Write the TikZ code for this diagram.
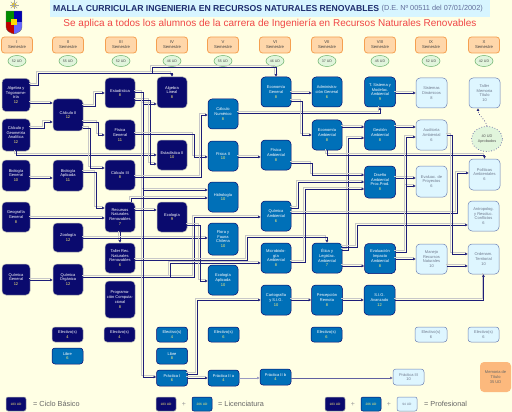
\documentclass[tikz,border=0pt]{standalone}
\usepackage{fontspec}
\setmainfont{Liberation Sans}
\usetikzlibrary{arrows.meta,shapes.geometric}
\definecolor{bg}{RGB}{255,255,228}
\definecolor{navyc}{RGB}{10,10,110}
\definecolor{licc}{RGB}{0,112,184}
\definecolor{profc}{RGB}{222,246,255}
\definecolor{profb}{RGB}{110,130,180}
\definecolor{proft}{RGB}{110,120,140}
\definecolor{linec}{RGB}{30,30,120}
\definecolor{shadowc}{RGB}{200,200,200}
\definecolor{orangef}{RGB}{255,215,170}
\definecolor{oranged}{RGB}{245,160,80}
\definecolor{greenf}{RGB}{225,245,220}
\definecolor{greend}{RGB}{110,180,110}
\definecolor{titlec}{RGB}{30,45,110}
\definecolor{redc}{RGB}{240,70,70}
\definecolor{titlebg}{RGB}{215,245,255}
\definecolor{numc}{RGB}{255,240,120}
\definecolor{memc}{RGB}{252,185,125}
\newcommand\nm[1]{\textcolor{numc}{#1}}
\tikzset{
 box/.style={rounded corners=4pt, minimum width=30pt, minimum height=30pt, inner sep=0.5pt, align=center, font=\fontsize{4}{4.8}\selectfont, line width=0.5pt},
 basic/.style={box, fill=navyc, draw=gray!60, text=white},
 lic/.style={box, fill=licc, draw=navyc, text=white},
 prof/.style={box, fill=profc, draw=profb, text=proft},
 smallbox/.style={minimum height=15pt, minimum width=31pt, rounded corners=3pt},
 conn/.style={draw=linec, line width=0.45pt, -{Triangle[length=2.6pt,width=2.4pt]},
   preaction={draw=shadowc, line width=0.9pt, -, transform canvas={xshift=-1.3pt,yshift=1.3pt}}},
 sem/.style={rounded corners=3pt, fill=orangef, draw=oranged, line width=0.8pt, minimum width=31pt, minimum height=16pt, inner sep=0pt, align=center, font=\fontsize{4.2}{5}\selectfont, text=black!75},
 udell/.style={ellipse, fill=greenf, draw=greend, line width=0.5pt, minimum width=18pt, minimum height=11pt, inner sep=0pt, font=\fontsize{3.6}{4}\selectfont, text=black!70},
 legtxt/.style={anchor=west, inner sep=0pt, font=\fontsize{7.3}{8.5}\selectfont, text=black!60},
 legbox/.style={minimum width=20pt, minimum height=14pt, rounded corners=2pt, font=\fontsize{3.2}{3.8}\selectfont},
}
\begin{document}
\begin{tikzpicture}[x=1pt,y=-1pt]
\useasboundingbox (0,0) rectangle (512,412);
\fill[bg] (0,0) rectangle (512,412);
% logo
\fill[yellow!70!orange] (14,5) circle (2.5);
\foreach \a in {0,45,...,315} \draw[gray!70, line width=0.4pt] (14,5) -- ++(\a:4.5);
\begin{scope}
\clip (6,11) -- (22,11) -- (22,27) .. controls (22,31) and (18,33) .. (14,34) .. controls (10,33) and (6,31) .. (6,27) -- cycle;
\fill[green!55!black] (6,11) rectangle (14,22);
\fill[blue!70!black] (14,11) rectangle (22,22);
\fill[red!75!black] (6,22) rectangle (14,34);
\fill[blue!60] (14,22) rectangle (22,34);
\fill[yellow!80!orange] (11,19) rectangle (17,25);
\end{scope}
\draw[black!60, line width=0.3pt] (6,11) -- (22,11) -- (22,27) .. controls (22,31) and (18,33) .. (14,34) .. controls (10,33) and (6,31) .. (6,27) -- cycle;
% title
\fill[titlebg] (50,0) rectangle (490,17);
\node[anchor=west, font=\fontsize{8.65}{9.5}\selectfont\bfseries, text=titlec, inner sep=0] (title) at (53,9) {MALLA CURRICULAR INGENIERIA EN RECURSOS NATURALES RENOVABLES};
\node[anchor=west, font=\fontsize{7.3}{8}\selectfont, text=titlec!70, inner sep=0] (dec) at (title.east) {\ (D.E. Nº 00511 del 07/01/2002)};
\node[font=\fontsize{10}{11}\selectfont, text=redc, inner sep=0] (sub) at (270,24) {Se aplica a todos los alumnos de la carrera de Ingeniería en Recursos Naturales Renovables};
% semesters
\foreach \rn/\xx/\ud [count=\i] in {I/17/52,II/68/55,III/121/52,IV/172/46,V/223/55,VI/275/46,VII/327/37,VIII/380/45,IX/431/52,X/484/42} {
  \node[sem] (s\i) at (\xx,45) {\rn\\Semestre};
  \node[udell] (u\i) at (\xx,61) {\ud\ UD};
}
% column I
\node[basic, minimum width=28pt, minimum height=33pt] (algtrig) at (16,95) {Algebra y\\Trigonome-\\tría\\\nm{12}};
\node[basic, minimum width=28pt, minimum height=32pt] (cga) at (16,135) {Cálculo y\\Geometría\\Analítica\\\nm{12}};
\node[basic, minimum width=28pt, minimum height=31pt] (biogen) at (16,175.5) {Biología\\General\\\nm{10}};
\node[basic, minimum width=28pt] (geogen) at (16,217) {Geografía\\General\\\nm{8}};
\node[basic, minimum width=28pt, minimum height=31pt] (quimgen) at (16,279.5) {Química\\General\\\nm{12}};
% column II
\node[basic, minimum height=32pt] (calcII) at (68,115) {Cálculo II\\\nm{12}};
\node[basic, minimum height=31pt] (bioapl) at (68,175.5) {Biología\\Aplicada\\\nm{11}};
\node[basic, minimum height=29pt] (zoo) at (68,237.5) {Zoología\\\nm{12}};
\node[basic, minimum height=31pt] (quimorg) at (68,279.5) {Química\\Orgánica\\\nm{12}};
\node[basic, smallbox] (elec2) at (67.5,334.5) {Electivo(s)\\\nm{4}};
\node[lic, smallbox, minimum height=16pt] (libre2) at (67.5,356) {Libre\\\nm{6}};
% column III
\node[basic] (estad) at (120,93) {Estadística\\\nm{8}};
\node[basic] (fisgen) at (120,135) {Física\\General\\\nm{11}};
\node[basic] (calcIII) at (120,175) {Cálculo III\\\nm{8}};
\node[basic] (rnr) at (120,217) {Recursos\\Naturales\\Renovables\\\nm{7}};
\node[basic] (taller) at (120,258) {Taller Rec.\\Naturales\\Renovables\\\nm{6}};
\node[basic, minimum height=37pt] (prog) at (120,299.5) {Programa-\\ción Computa-\\cional\\\nm{8}};
\node[basic, smallbox] (elec3) at (119.5,334.5) {Electivo(s)\\\nm{4}};
% column IV
\node[basic, minimum height=31pt] (alglin) at (172,92.5) {Algebra\\Lineal\\\nm{8}};
\node[basic] (estadII) at (172,155) {Estadística II\\\nm{10}};
\node[basic] (ecol) at (172,217) {Ecología\\\nm{9}};
\node[lic, smallbox] (elec4) at (172,334.5) {Electivo(s)\\\nm{4}};
\node[lic, smallbox, minimum height=16pt] (libre4) at (172,356) {Libre\\\nm{8}};
\node[lic, smallbox, minimum height=16pt] (prac1) at (172,378) {Práctica I\\\nm{6}};
% column V
\node[lic] (calcnum) at (223,114) {Cálculo\\Numérico\\\nm{8}};
\node[lic] (fisII) at (223,156) {Física II\\\nm{10}};
\node[lic] (hidro) at (223,197) {Hidrología\\\nm{10}};
\node[lic, minimum height=32pt] (flora) at (223,239) {Flora y\\Fauna\\Chilena\\\nm{10}};
\node[lic] (ecolapl) at (223,280) {Ecología\\Aplicada\\\nm{10}};
\node[lic, smallbox] (elec5) at (223.5,334.5) {Electivo(s)\\\nm{6}};
\node[lic, smallbox, minimum height=16pt] (prac2a) at (223.5,378) {Práctica II a\\\nm{4}};
% column VI
\node[lic] (econgen) at (276,92) {Economía\\General\\\nm{8}};
\node[lic] (fisamb) at (276,155) {Física\\Ambiental\\\nm{8}};
\node[lic] (quimamb) at (276,216) {Química\\Ambiental\\\nm{6}};
\node[lic] (microbio) at (276,258) {Microbiolo-\\gía\\Ambiental\\\nm{8}};
\node[lic] (carto) at (276,300) {Cartografía\\y S.I.G.\\\nm{10}};
\node[lic, smallbox, minimum height=16pt] (prac2b) at (275.5,377) {Práctica II b\\\nm{4}};
% column VII
\node[lic] (adm) at (327,92) {Administra-\\ción General\\\nm{6}};
\node[lic] (econamb) at (327,135) {Economía\\Ambiental\\\nm{8}};
\node[lic] (etica) at (327,258) {Ética y\\Legislac.\\Ambiental\\\nm{7}};
\node[lic, minimum width=31pt] (percep) at (327,300) {Percepción\\Remota\\\nm{8}};
\node[lic, smallbox] (elec7) at (326.5,334.5) {Electivo(s)\\\nm{6}};
% column VIII
\node[lic, minimum width=31pt] (tsist) at (380,92) {T. Sistema y\\Modelac.\\Ambiental\\\nm{9}};
\node[lic, minimum width=31pt] (gestion) at (380,135) {Gestión\\Ambiental\\\nm{8}};
\node[lic, minimum width=31pt, minimum height=32pt] (diseno) at (380,182) {Diseño\\Ambiental\\Proc.Prod.\\\nm{8}};
\node[lic, minimum width=31pt] (evalimp) at (380,258.5) {Evaluación\\Impacto\\Ambiental\\\nm{8}};
\node[lic, minimum width=31pt] (sig) at (379.5,300) {S.I.G.\\Avanzado\\\nm{12}};
% column IX
\node[prof, minimum width=31pt] (sistdin) at (431.5,93) {Sistemas\\Dinámicos\\8};
\node[prof, minimum width=31pt] (audit) at (431.5,135) {Auditoría\\Ambiental\\6};
\node[prof, minimum width=31pt, minimum height=31pt] (evalproy) at (431.5,181.5) {Evaluac. de\\Proyectos\\6};
\node[prof, minimum width=31pt] (manejo) at (431.5,259) {Manejo\\Recursos\\Naturales\\10};
\node[prof, smallbox, minimum width=32pt] (elec9) at (431,334.5) {Electivo(s)\\6};
\node[prof, smallbox, minimum height=16pt] (prac3) at (408.5,377) {Práctica III\\10};
% column X
\node[prof, minimum width=31pt] (tallermem) at (484.5,93) {Taller\\Memoria\\Título\\10};
\node[ellipse, fill=greenf, draw=linec!70, dotted, line width=0.7pt, minimum width=31pt, minimum height=25pt, inner sep=0pt, align=center, font=\fontsize{3.8}{4.6}\selectfont, text=black!65] (ud40) at (487,139) {40 UD\\Aprobados};
\node[prof, minimum width=31pt, minimum height=31pt] (politicas) at (484.5,174.5) {Políticas\\Ambientales\\6};
\node[prof, minimum width=31pt] (antro) at (483.5,216) {Antropolog.\\y Resoluc.\\Conflictos\\6};
\node[prof, minimum width=31pt] (ordenam) at (483.5,259) {Ordenam.\\Territorial\\10};
\node[prof, smallbox] (elec10) at (483.5,334.5) {Electivo(s)\\6};
\node[box, fill=memc, draw=none, minimum width=31pt, text=black!60] (memoria) at (495.5,377) {Memoria de\\Título\\35 UD};
% connectors
\draw[conn] (algtrig.east |- 0,103) -- (calcII.west |- 0,103);
\draw[conn] (cga.east |- 0,128) -- (44,128) |- (calcII.west |- 0,122);
\draw[conn] (algtrig.east |- 0,85) -| (38,73) -| (alglin.north);
\draw[conn] (algtrig.east |- 0,85) -| (38,73) -| (152,67) -| (econgen.north);
\draw[conn] (cga.south) |- (estadII.west |- 0,155);
\draw[conn] (biogen.east |- 0,178) -- (bioapl.west |- 0,178);
\draw[conn] (calcII.east |- 0,106) -| (95,93) -- (estad.west |- 0,93);
\draw[conn] (calcII.east |- 0,122) -| (98,135) -- (fisgen.west |- 0,135);
\draw[conn] (calcII.east |- 0,128) -| (90,168) -- (calcIII.west |- 0,168);
\draw[conn] (bioapl.east |- 0,172) -| (96,208) -- (rnr.west |- 0,208);
\draw[conn] (geogen.east |- 0,218) -- (rnr.west |- 0,218);
\draw[conn] (rnr.south) -- (taller.north);
\draw[conn] (zoo.east |- 0,238) -- (flora.west |- 0,238);
\draw[conn] (quimgen.east |- 0,280) -- (quimorg.west |- 0,280);
\draw[conn] (quimorg.east |- 0,277) -| (194,217) -- (quimamb.west |- 0,217);
\draw[conn] (quimorg.east |- 0,277) -| (170,263) -- (microbio.west |- 0,263);
\draw[conn] (estad.east |- 0,92) -| (143,104) -- (alglin.west |- 0,104);
\draw[conn] (estad.east |- 0,100) -| (150,164) -- (estadII.west |- 0,164);
\draw[conn] (estad.east |- 0,92) -| (143,190) -- (hidro.west |- 0,190);
\draw[conn] (estad.east |- 0,92) -| (143,377) -- (prac1.west |- 0,377);
\draw[conn] (fisgen.east |- 0,134) -| (194,157) -- (fisII.west |- 0,157);
\draw[conn] (calcIII.east |- 0,177) -| (201,115) -- (calcnum.west |- 0,115);
\draw[conn] ([xshift=11pt]rnr.north) |- (hidro.west |- 0,198);
\draw[conn] (rnr.east |- 0,210) -- (ecol.west |- 0,210);
\draw[conn] (ecol.east |- 0,225) -| (200,281) -- (ecolapl.west |- 0,281);
\draw[conn] (taller.east |- 0,260) -| (247,237) -| (etica.north);
\draw[conn] (calcnum.east |- 0,113) -| (tsist.south);
\draw[conn] (fisII.east |- 0,157) -- (fisamb.west |- 0,157);
\draw[conn] (econgen.east |- 0,93) -- (adm.west |- 0,93);
\draw[conn] (econgen.east |- 0,101) -| (302,135) -- (econamb.west |- 0,135);
\draw[conn] (tsist.east |- 0,93) -- (sistdin.west |- 0,93);
\draw[conn] (econamb.east |- 0,127) -- (gestion.west |- 0,127);
\draw[conn] (etica.east |- 0,250) -| (348,138) -- (gestion.west |- 0,138);
\draw[conn] (etica.east |- 0,247) -| (357,225) -- (antro.west |- 0,225);
\draw[conn] (econamb.south) -- (327,155) -| (politicas.north);
\draw[conn] (fisamb.east |- 0,163) -| (312,175) -- (diseno.west |- 0,175);
\draw[conn] (quimamb.east |- 0,208) -| (298,182) -- (diseno.west |- 0,182);
\draw[conn] (microbio.east |- 0,262) -| (305,189) -- (diseno.west |- 0,189);
\draw[conn] (quimamb.east |- 0,213) -| (457,173) -- (politicas.west |- 0,173);
\draw[conn] (diseno.east |- 0,178) -- (evalproy.west |- 0,178);
\draw[conn] (etica.east |- 0,266) -- (evalimp.west |- 0,266);
\draw[conn] (evalimp.east |- 0,252) -| (406,186) -- (evalproy.west |- 0,186);
\draw[conn] (evalimp.east |- 0,252) -| (406,137) -- (audit.west |- 0,137);
\draw[conn] (evalimp.east |- 0,259) -- (manejo.west |- 0,259);
\draw[conn] (gestion.east |- 0,127) -- (audit.west |- 0,127);
\draw[conn] (audit.east |- 0,135) -| (452,254) -- (ordenam.west |- 0,254);
\draw[conn] (manejo.east |- 0,266) -- (ordenam.west |- 0,266);
\draw[conn] (sig.east |- 0,300) -| (ordenam.south);
\draw[conn] (carto.east |- 0,300) -- (percep.west |- 0,300);
\draw[conn] (percep.east |- 0,300) -- (sig.west |- 0,300);
\draw[conn] (prac1.east |- 0,374) -| (197,300) -- (carto.west |- 0,300);
\draw[conn] (prac1.east |- 0,378) -- (prac2a.west |- 0,378);
\draw[draw=linec!45, line width=0.45pt, -{Triangle[length=2.6pt,width=2.4pt]}] (prac2a.east |- 0,378) -- (prac2b.west |- 0,378);
\draw[draw=linec!70, line width=0.4pt, -{Triangle[length=2.6pt,width=2.4pt]}] (prac2b.east |- 0,378) -- (prac3.west |- 0,378);
\draw[linec, dotted, line width=0.7pt, -{Triangle[length=2.6pt,width=2.4pt]}] (ud40.north) .. controls (485,118) and (478,116) .. (tallermem.south -| 478,0);
% legend
\node[basic, legbox] (l1) at (16,404) {\nm{183 UD}};
\node[legtxt] (t1) at (33,404) {= Ciclo Básico};
\node[basic, legbox] (l2) at (166,404) {\nm{183 UD}};
\node[text=black!40, font=\fontsize{7}{8}\selectfont, inner sep=0] (p1) at (184,404) {+};
\node[lic, legbox] (l3) at (202,404) {\nm{206 UD}};
\node[legtxt] (t2) at (218,404) {= Licenciatura};
\node[basic, legbox] (l4) at (335,404) {\nm{183 UD}};
\node[text=black!40, font=\fontsize{7}{8}\selectfont, inner sep=0] (p2) at (353,404) {+};
\node[lic, legbox] (l5) at (371,404) {\nm{206 UD}};
\node[text=black!40, font=\fontsize{7}{8}\selectfont, inner sep=0] (p3) at (389,404) {+};
\node[prof, legbox] (l6) at (407,404) {94 UD};
\node[legtxt] (t3) at (424,404) {= Profesional};
\end{tikzpicture}
\end{document}
